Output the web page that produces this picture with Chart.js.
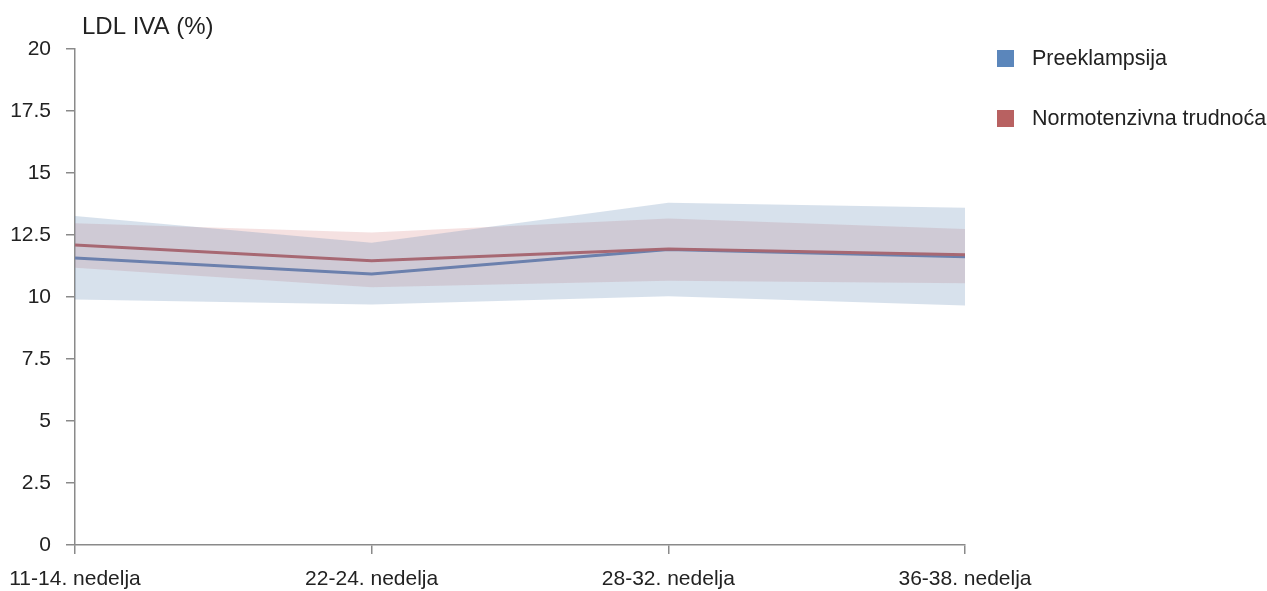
<!DOCTYPE html>
<html>
<head>
<meta charset="utf-8">
<script src="https://cdn.jsdelivr.net/npm/chart.js@4"></script>
<style>
    html, body { margin: 0; padding: 0; background: #fff; }
    #wrap { position: relative; width: 1267px; height: 591px; }
    #legend { position: absolute; left: 997px; top: 46px; font-family: 'Liberation Sans', Arial, sans-serif; font-size: 21.5px; color: #222; }
    #legend div { height: 24px; line-height: 24px; margin-bottom: 36px; white-space: nowrap; }
    #legend span.box { display: inline-block; width: 17px; height: 17px; vertical-align: -2px; margin-right: 18px; }
</style>
</head>
<body>
<div id="wrap">
    <canvas id="chart" width="1267" height="591"></canvas>
    <div id="legend"></div>
</div>
<script>
    'use strict';

    // data
    const categories = ['11-14. nedelja', '22-24. nedelja', '28-32. nedelja', '36-38. nedelja'];
    const seriesNames = ['Preeklampsija', 'Normotenzivna trudnoća'];

    const preeklampsija      = [11.57, 10.93, 11.92, 11.62];
    const preeklampsijaUpper = [13.27, 12.19, 13.80, 13.60];
    const preeklampsijaLower = [9.90, 9.70, 10.03, 9.66];

    const normotenzivna      = [12.10, 11.46, 11.94, 11.70];
    const normotenzivnaUpper = [12.97, 12.60, 13.17, 12.74];
    const normotenzivnaLower = [11.18, 10.39, 10.66, 10.55];

    const yTicks = [0, 2.5, 5, 7.5, 10, 12.5, 15, 17.5, 20];

    const blueLine = 'rgba(84,128,186,1)';
    const redLine  = 'rgba(186,88,88,1)';
    const blueBand = 'rgba(96,136,180,0.25)';
    const redBand  = 'rgba(210,120,120,0.22)';
    const FONT = "'Liberation Sans', Arial, sans-serif";

    function band(data, fill, color) {
        return {
            data: data,
            borderWidth: 0,
            pointRadius: 0,
            backgroundColor: color,
            fill: fill,
            tension: 0
        };
    }

    const datasets = [
        band(preeklampsijaUpper, '+1', blueBand),
        band(preeklampsijaLower, false, blueBand),
        band(normotenzivnaUpper, '+1', redBand),
        band(normotenzivnaLower, false, redBand),
        {
            label: seriesNames[1],
            data: normotenzivna,
            borderColor: redLine,
            borderWidth: 3,
            pointRadius: 0,
            fill: false,
            tension: 0
        },
        {
            label: seriesNames[0],
            data: preeklampsija,
            borderColor: blueLine,
            borderWidth: 3,
            pointRadius: 0,
            fill: false,
            tension: 0
        }
    ];

    // axis title drawn above the y axis
    const axisTitle = {
        id: 'axisTitle',
        afterDraw(chart) {
            const ctx = chart.ctx;
            ctx.save();
            ctx.font = '24px ' + FONT;
            ctx.fillStyle = '#222';
            ctx.textBaseline = 'alphabetic';
            ctx.fillText('LDL IVA (%)', 82, 34);
            ctx.restore();
        }
    };

    const axisColor = '#8a8a8a';

    new Chart(document.getElementById('chart'), {
        type: 'line',
        data: { labels: categories, datasets: datasets },
        plugins: [axisTitle],
        options: {
            responsive: false,
            animation: false,
            layout: { padding: { top: 49, right: 302, left: 0, bottom: 0 } },
            plugins: {
                legend: { display: false },
                tooltip: { enabled: false },
                filler: { propagate: false }
            },
            scales: {
                x: {
                    offset: false,
                    grid: { display: true, drawOnChartArea: false, drawTicks: true, tickLength: 9, color: axisColor, lineWidth: 1.5 },
                    border: { color: axisColor, width: 1.5 },
                    ticks: { color: '#222', font: { family: FONT, size: 21 }, padding: 13, maxRotation: 0, autoSkip: false },
                    afterFit(scale) {
                        scale.height = 46;
                        // the edge labels may overhang; don't let them push the plot area
                        scale.paddingLeft = 0;
                        scale.paddingRight = 0;
                    }
                },
                y: {
                    min: 0,
                    max: 20,
                    afterBuildTicks(scale) { scale.ticks = yTicks.map(v => ({ value: v })); },
                    grid: { display: true, drawOnChartArea: false, drawTicks: true, tickLength: 9, color: axisColor, lineWidth: 1.5 },
                    border: { color: axisColor, width: 1.5 },
                    ticks: { color: '#222', font: { family: FONT, size: 21 }, padding: 15 },
                    afterFit(scale) { scale.width = 75; }
                }
            }
        }
    });

    // legend
    const legendEl = document.getElementById('legend');
    [[seriesNames[0], '#5b86bb'], [seriesNames[1], '#b86161']].forEach(([name, col]) => {
        const row = document.createElement('div');
        row.innerHTML = '<span class="box" style="background:' + col + '"></span>' + name;
        legendEl.appendChild(row);
    });
</script>
</body>
</html>
